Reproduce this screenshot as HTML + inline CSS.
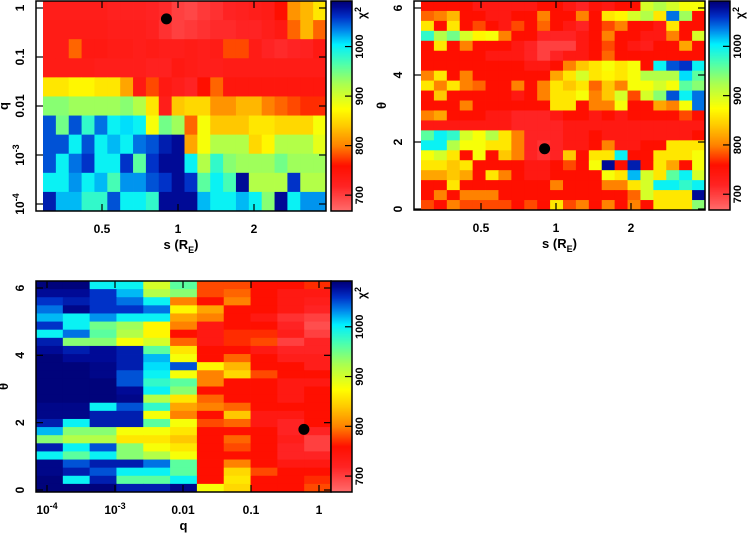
<!DOCTYPE html>
<html><head><meta charset="utf-8"><style>
html,body{margin:0;padding:0;background:#fff;}
svg{display:block;font-family:"Liberation Sans",sans-serif;font-weight:bold;}
</style></head><body>
<svg id="fig" width="754" height="537" viewBox="0 0 754 537" xmlns="http://www.w3.org/2000/svg"></svg>
<script>
// ---- data: chi^2 values, rows top -> bottom ----
const sTicks = [0.5, 1, 2];
const qTicks = [1, 0.1, 0.01, 0.001, 0.0001];
const qTickLabels = ['1', '0.1', '0.01', '10^-3', '10^-4'];
const thetaTicks = [0, 2, 4, 6];
const cbTicks = [700, 800, 900, 1000];
const qTicks3 = [0.0001, 0.001, 0.01, 0.1, 1];
const qTickLabels3 = ['10^-4', '10^-3', '0.01', '0.1', '1'];
const bestFitS = 0.9;
const bestFitQ = 0.6;
const bestFitTheta = 1.8;

const chiSQ = [
[730,730,730,730,730,725,725,725,720,715,700,695,705,710,720,725,730,735,760,810,830,860],
[735,735,735,735,735,730,730,730,725,710,700,705,710,715,715,720,720,730,740,790,830,790],
[735,735,790,740,740,735,735,730,735,730,730,735,730,735,780,780,735,720,715,720,725,740],
[735,735,735,735,730,730,730,730,725,725,740,735,730,730,735,735,735,735,735,735,735,735],
[860,860,870,870,860,860,820,740,780,740,730,720,760,790,745,745,745,745,745,745,745,745],
[940,940,930,930,930,930,940,920,860,730,840,850,850,810,810,830,830,800,790,780,770,770],
[1050,950,1050,980,1040,1000,1010,1000,880,950,930,790,880,840,840,840,860,860,850,850,850,880],
[1050,1050,1000,1050,1000,1020,1000,1040,1050,1070,1080,820,880,920,920,920,850,870,920,920,920,890],
[1050,1000,1040,1060,1000,1000,1060,960,1060,1080,1080,1000,920,980,940,930,930,930,950,930,930,930],
[1000,1000,1030,1000,1020,970,1030,1030,1050,1060,1080,1060,960,1000,970,1080,920,920,920,1060,920,920],
[1070,1020,1020,980,980,1050,1000,1000,980,1080,1080,1080,1020,1000,1000,1020,1000,940,1080,1000,1030,1030]
];
const chiSTheta = [
[760,760,760,760,740,740,740,740,740,760,760,740,720,750,740,760,760,900,920,900,880,880],
[790,800,830,760,760,740,740,760,760,800,760,760,800,760,860,870,900,920,860,1040,930,760],
[860,760,860,760,780,760,740,780,760,790,760,740,720,760,780,800,760,760,740,860,760,760],
[980,920,950,900,870,880,800,760,760,720,720,720,740,760,800,760,760,740,740,800,760,900],
[760,860,760,800,760,760,760,740,720,700,700,700,740,760,780,760,740,730,760,760,820,760],
[760,760,760,760,760,740,740,740,720,700,720,740,740,760,790,760,760,760,760,760,760,760],
[760,760,760,760,760,760,760,760,740,740,760,800,840,860,880,860,880,760,1000,1050,1060,1000],
[800,860,760,800,760,760,760,760,760,760,820,860,900,860,870,860,880,920,920,920,1010,960],
[860,800,860,800,790,760,760,800,760,800,860,840,860,790,840,800,880,880,900,880,960,940],
[760,840,760,760,760,760,760,740,760,800,860,860,880,800,840,900,780,900,940,1050,1000,1040],
[760,760,760,800,760,760,760,760,760,760,860,860,760,800,800,880,760,760,820,800,880,1040],
[800,820,760,760,760,740,740,720,720,720,740,760,760,740,760,740,760,760,760,760,780,760],
[740,740,740,740,740,740,740,720,720,720,720,740,740,740,740,740,740,740,740,740,740,740],
[960,1000,980,900,880,920,860,800,720,720,720,740,740,760,740,740,740,740,740,740,740,760],
[1000,1000,920,880,880,860,860,800,720,710,720,740,740,760,800,740,740,760,760,860,860,860],
[880,900,860,760,880,760,840,800,720,710,720,840,760,860,860,1000,760,760,860,860,860,880],
[860,860,840,860,760,760,760,760,740,740,760,780,760,880,1080,760,1070,760,860,820,760,880],
[820,820,840,820,760,860,800,760,740,740,760,760,760,760,880,860,1020,900,860,960,1000,900],
[760,760,860,760,760,760,760,760,760,760,800,760,760,760,800,800,860,900,1000,1000,980,1000],
[760,800,760,800,800,800,760,760,760,760,760,760,760,760,760,760,790,900,860,860,860,1080],
[780,760,800,780,780,780,780,760,780,760,860,780,800,760,800,760,800,760,860,860,860,940]
];
const chiQTheta = [
[1090,1090,1000,1000,900,960,780,780,760,760,770],
[1080,1080,1060,1020,920,940,780,790,760,740,740],
[1060,1070,1060,1040,1000,800,760,800,760,740,730],
[1040,1085,1060,1060,1040,870,820,760,760,740,720],
[1020,1000,1030,1000,1000,820,800,760,740,710,700],
[1060,1000,950,930,870,800,740,760,760,720,690],
[1000,1040,960,920,870,760,740,770,770,730,700],
[1070,940,940,880,900,790,740,770,780,700,720],
[1080,1070,1080,1070,960,860,760,760,740,720,720],
[1090,1080,1080,1070,1020,880,760,790,760,730,730],
[1090,1090,1085,1070,1010,1050,870,830,760,760,730],
[1090,1090,1085,1050,1000,880,800,850,780,760,760],
[1090,1090,1090,1050,980,960,800,760,760,740,740],
[1090,1090,1090,1080,1000,940,760,760,760,740,760],
[1090,1090,1090,1085,920,860,790,760,760,740,760],
[1085,1085,1000,1050,980,820,800,790,760,760,760],
[1085,1085,1070,1070,880,800,760,840,740,740,760],
[1070,1000,1070,1070,960,880,780,790,740,720,760],
[1020,940,940,880,880,860,760,760,760,720,720],
[940,920,920,860,860,840,760,790,760,730,700],
[1070,1000,1050,940,880,860,760,780,760,720,700],
[1000,960,1000,940,920,880,760,760,760,720,720],
[1085,1050,1070,1070,1040,960,760,800,760,740,740],
[1085,1070,1050,1000,1000,960,760,850,780,760,760],
[1090,1000,1070,960,960,1000,760,860,760,760,770],
[1090,1090,1090,1070,1070,1085,880,850,760,760,780]
];

// ---- rendering ----
const NS = 'http://www.w3.org/2000/svg';
const svg = document.getElementById('fig');
function mk(tag, attrs, parent) {
  const e = document.createElementNS(NS, tag);
  for (const k in attrs) e.setAttribute(k, attrs[k]);
  (parent || svg).appendChild(e);
  return e;
}
const stops = [[668,[255,110,110]],[720,[255,35,35]],[760,[255,15,0]],[800,[255,130,0]],[840,[255,200,0]],[875,[255,255,0]],[925,[170,255,80]],[965,[80,255,170]],[1005,[0,240,255]],[1035,[0,130,235]],[1060,[0,50,200]],[1080,[0,10,150]],[1095,[0,0,110]]];
function cmap(v) {
  if (v <= stops[0][0]) return 'rgb(' + stops[0][1] + ')';
  for (let i = 1; i < stops.length; i++) {
    if (v <= stops[i][0]) {
      const t = (v - stops[i-1][0]) / (stops[i][0] - stops[i-1][0]);
      const a = stops[i-1][1], b = stops[i][1];
      return 'rgb(' + a.map((c, j) => Math.round(c + (b[j] - c) * t)).join(',') + ')';
    }
  }
  return 'rgb(' + stops[stops.length-1][1] + ')';
}
function logScale(d0, d1, r0, r1) { return v => r0 + (Math.log10(v) - Math.log10(d0)) / (Math.log10(d1) - Math.log10(d0)) * (r1 - r0); }
function linScale(d0, d1, r0, r1) { return v => r0 + (v - d0) / (d1 - d0) * (r1 - r0); }

function label(txt, x, y, rot, name, size) {
  const g = mk('g', {transform: 'translate(' + x + ',' + y + ')' + (rot ? ' rotate(' + rot + ')' : '')});
  
  
  const t = mk('text', {x: 0, y: 0, 'text-anchor': 'middle', 'font-size': size || 12, fill: '#000'}, g);
  if (txt.indexOf('^') >= 0) {
    const p = txt.split('^');
    t.textContent = p[0];
    const s = mk('tspan', {dy: -5, 'font-size': 9}, t);
    s.textContent = p[1];
  } else if (txt.indexOf('_') >= 0) {
    const p = txt.split('_');
    t.appendChild(document.createTextNode(p[0]));
    const s = mk('tspan', {dy: 4, 'font-size': 9}, t);
    s.textContent = p[1].replace(')', '');
    const s2 = mk('tspan', {dy: -4}, t);
    s2.textContent = ')';
  } else {
    t.textContent = txt;
  }
  return g;
}

function panel(opt) {
  const g = mk('g', {});
  
  
  const rows = opt.data.length, cols = opt.data[0].length;
  const cellW = (opt.dx1 - opt.dx0) / cols, cellH = (opt.y1 - opt.y0) / rows;
  opt.data.forEach((row, r) => row.forEach((v, c) => {
    const rc = mk('rect', {x: (opt.dx0 + c * cellW).toFixed(2), y: (opt.y0 + r * cellH).toFixed(2), width: (cellW + 0.4).toFixed(2), height: (cellH + 0.4).toFixed(2), fill: cmap(v)}, g);
    
    
  }));
  const fr = mk('rect', {x: opt.x0, y: opt.y0, width: opt.x1 - opt.x0, height: opt.y1 - opt.y0, fill: 'none', stroke: '#000', 'stroke-width': 1.5}, g);
  
  
  opt.xTicks.forEach((t, i) => {
    const x = opt.xs(t);
    mk('line', {x1: x, x2: x, y1: opt.y1, y2: opt.y1 - 7, stroke: '#000', 'stroke-width': 1.2}, g);
    mk('line', {x1: x, x2: x, y1: opt.y0, y2: opt.y0 + 7, stroke: '#000', 'stroke-width': 1.2}, g);
    label(opt.xLabels[i], x, opt.y1 + 22, 0, 'x-tick-label');
  });
  opt.yTicks.forEach((t, i) => {
    const y = opt.ys(t);
    mk('line', {x1: opt.x0, x2: opt.x0 + 7, y1: y, y2: y, stroke: '#000', 'stroke-width': 1.2}, g);
    mk('line', {x1: opt.x1, x2: opt.x1 - 7, y1: y, y2: y, stroke: '#000', 'stroke-width': 1.2}, g);
    label(opt.yLabels[i], opt.x0 - 12, y, -90, 'y-tick-label');
  });
  const cb = mk('g', {}, g);
  
  
  const cs = linScale(668, 1092, opt.y1, opt.y0);
  for (let v = 668; v < 1092; v += 2) {
    mk('rect', {x: opt.cbx, y: cs(v + 2), width: 21, height: (cs(v) - cs(v + 2)) + 0.5, fill: cmap(v + 1)}, cb);
  }
  mk('rect', {x: opt.cbx, y: opt.y0, width: 21, height: opt.y1 - opt.y0, fill: 'none', stroke: '#000', 'stroke-width': 1.5}, cb);
  cbTicks.forEach(t => {
    mk('line', {x1: opt.cbx + 14, x2: opt.cbx + 21, y1: cs(t), y2: cs(t), stroke: '#000', 'stroke-width': 1.2}, cb);
    label(String(t), opt.cbx + 32, cs(t), -90, 'colorbar-tick-label', 11);
  });
  label('χ^2', opt.cbx + 35, opt.y0 + 12, -90, 'colorbar-title', 12);
  label(opt.xTitle, (opt.x0 + opt.x1) / 2, opt.y1 + 38, 0, 'x-axis-title', 13);
  label(opt.yTitle, opt.x0 - 28, (opt.y0 + opt.y1) / 2, -90, 'y-axis-title', 13);
  const dot = mk('circle', {cx: opt.xs(opt.bx), cy: opt.ys(opt.by), r: 5.5, fill: '#000'}, g);
  
  
}

const s1 = logScale(0.5, 1, 102, 178);
panel({name: 'panel-s-q', data: chiSQ, x0: 36, x1: 326, dx0: 43, dx1: 326, y0: 1, y1: 211,
  xs: s1, ys: logScale(1, 0.1, 8, 57), xTicks: sTicks, xLabels: sTicks.map(String),
  yTicks: qTicks, yLabels: qTickLabels, cbx: 331, xTitle: 's (R_E)', yTitle: 'q', bx: bestFitS, by: bestFitQ});
const s2 = logScale(0.5, 1, 481, 556);
panel({name: 'panel-s-theta', data: chiSTheta, x0: 414, x1: 705, dx0: 421, dx1: 705, y0: 1, y1: 210,
  xs: s2, ys: linScale(0, 6, 209, 8), xTicks: sTicks, xLabels: sTicks.map(String),
  yTicks: thetaTicks, yLabels: thetaTicks.map(String), cbx: 709, xTitle: 's (R_E)', yTitle: 'θ', bx: bestFitS, by: bestFitTheta});
panel({name: 'panel-q-theta', data: chiQTheta, x0: 36, x1: 331, dx0: 36, dx1: 331, y0: 281, y1: 492,
  xs: logScale(0.0001, 1, 47, 319), ys: linScale(0, 6, 490, 288), xTicks: qTicks3, xLabels: qTickLabels3,
  yTicks: thetaTicks, yLabels: thetaTicks.map(String), cbx: 331, xTitle: 'q', yTitle: 'θ', bx: bestFitQ, by: bestFitTheta});
</script>
</body></html>
